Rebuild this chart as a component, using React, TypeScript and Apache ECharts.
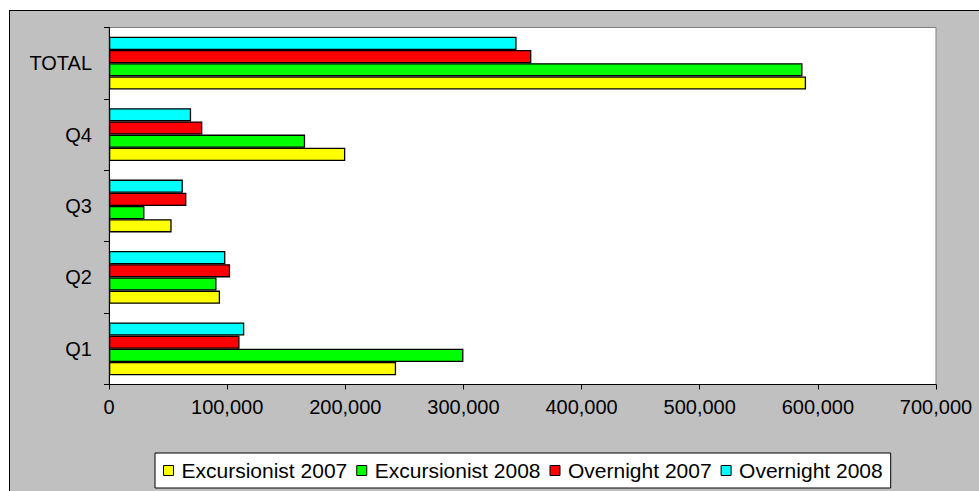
import React, { useEffect, useRef } from "react";
import * as echarts from "echarts";

const categories = ["Q1", "Q2", "Q3", "Q4", "TOTAL"];
const excursionist2007 = [243000, 94000, 53000, 200000, 590000];
const excursionist2008 = [300000, 91000, 30000, 166000, 587000];
const overnight2007 = [110500, 102500, 65500, 79000, 357500];
const overnight2008 = [114500, 98500, 62500, 69500, 345000];
const seriesNames = ["Excursionist 2007", "Excursionist 2008", "Overnight 2007", "Overnight 2008"];
const seriesColors = ["#FFFF00", "#00FF00", "#FF0000", "#00FFFF"];
const seriesData = [excursionist2007, excursionist2008, overnight2007, overnight2008];

const FONT = "'Liberation Sans', Arial, sans-serif";

export default function App() {
  const ref = useRef<HTMLDivElement>(null);
  useEffect(() => {
    if (!ref.current) return;
    const chart = echarts.init(ref.current, undefined, { renderer: "svg" });
    // ECharts places the first series at the top of a horizontal band, so add them in reverse
    const order = [3, 2, 1, 0];
    chart.setOption({
      animation: false,
      backgroundColor: "transparent",
      textStyle: { fontFamily: FONT },
      grid: {
        left: 109,
        top: 27.5,
        width: 827,
        height: 357,
        show: true,
        backgroundColor: "#ffffff",
        borderColor: "#808080",
        borderWidth: 1,
      },
      xAxis: {
        type: "value",
        min: 0,
        max: 700000,
        interval: 100000,
        splitLine: { show: false },
        axisLine: { show: true, lineStyle: { color: "#000", width: 1 } },
        axisTick: { show: true, length: 5, lineStyle: { color: "#000" } },
        axisLabel: {
          color: "#000",
          fontSize: 20,
          fontFamily: FONT,
          margin: 12,
          formatter: (v: number) => v.toLocaleString("en-US"),
        },
      },
      yAxis: {
        type: "category",
        data: categories,
        axisLine: { show: true, lineStyle: { color: "#000", width: 1 } },
        axisTick: { show: true, length: 5, lineStyle: { color: "#000" } },
        axisLabel: { color: "#000", fontSize: 20, fontFamily: FONT, margin: 17 },
      },
      legend: {
        left: 155,
        top: 453,
        data: seriesNames,
        backgroundColor: "#ffffff",
        borderColor: "#000",
        borderWidth: 1,
        padding: [7, 8, 7, 8],
        itemGap: 9,
        itemWidth: 10,
        itemHeight: 10,
        icon: "rect",
        itemStyle: { borderColor: "#000", borderWidth: 1 },
        textStyle: { color: "#000", fontSize: 21, fontFamily: FONT, padding: [0, 0, 0, 3] },
      },
      series: order.map((i) => ({
        name: seriesNames[i],
        type: "bar",
        data: seriesData[i],
        barGap: "0%",
        barCategoryGap: "26%",
        itemStyle: { color: seriesColors[i], borderColor: "#000", borderWidth: 1.3 },
      })),
    });
    return () => chart.dispose();
  }, []);
  return (
    <div style={{ position: "fixed", left: 0, top: 0, width: 979, height: 491, background: "#fff", overflow: "hidden" }}>
      <div
        style={{
          position: "absolute",
          left: 9,
          top: 10,
          width: 1000,
          height: 500,
          background: "#C0C0C0",
          borderLeft: "1px solid #000",
          borderTop: "1px solid #000",
        }}
      />
      <div ref={ref} style={{ position: "absolute", left: 0, top: 0, width: 979, height: 491 }} />
    </div>
  );
}
